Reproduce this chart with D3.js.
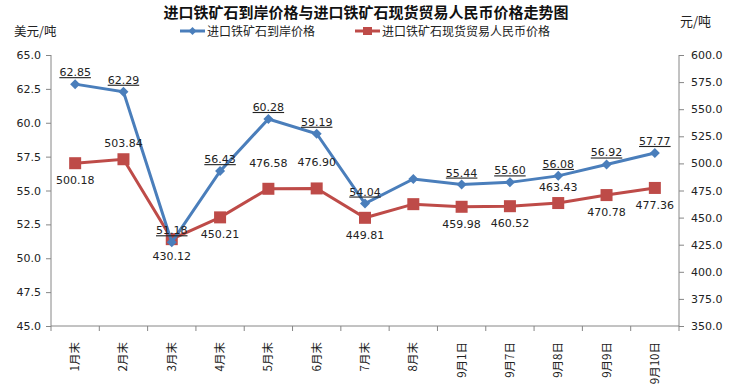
<!DOCTYPE html>
<html>
<head>
<meta charset="utf-8">
<script src="https://cdn.jsdelivr.net/npm/d3@7"></script>
<style>
  body { margin: 0; background: #fff; }
  text { font-family: "DejaVu Sans", Verdana, sans-serif; }
  .cjk { font-family: "Noto Sans CJK SC", sans-serif; }
  .axis path, .axis line { stroke: #868686; }
</style>
</head>
<body>
<div class="chart"></div>
<script>
// Chart data
var categories = ["1月末", "2月末", "3月末", "4月末", "5月末", "6月末", "7月末", "8月末",
  "9月1日", "9月7日", "9月8日", "9月9日", "9月10日"];
var usdPrice = [62.85, 62.29, 51.18, 56.43, 60.28, 59.19, 54.04, 55.85, 55.44, 55.60, 56.08, 56.92, 57.77];
var rmbPrice = [500.18, 503.84, 430.12, 450.21, 476.58, 476.90, 449.81, 462.4, 459.98, 460.52, 463.43, 470.78, 477.36];
// which points carry a label (8月末 has none in the original)
var usdLabeled = [1, 1, 1, 1, 1, 1, 1, 0, 1, 1, 1, 1, 1];
var rmbLabelPos = ["below", "above", "below", "below", "high", "high", "below", "", "below", "below", "above", "below", "below"];
var leftTicks = [45, 47.5, 50, 52.5, 55, 57.5, 60, 62.5, 65];
var rightTicks = [350, 375, 400, 425, 450, 475, 500, 525, 550, 575, 600];

var svgWidth = 729;
var svgHeight = 388;
var margin = { top: 55, right: 50, bottom: 62, left: 51 };
var width = 679 - margin.left;
var height = 326 - margin.top;

var blue = "#4a7ebb";
var red = "#be4b48";

var svg = d3.select(".chart")
  .append("svg")
  .attr("width", svgWidth)
  .attr("height", svgHeight);

var chartGroup = svg.append("g")
  .attr("transform", `translate(${margin.left}, ${margin.top})`);

// Scales
var xBand = d3.scaleBand().domain(categories).range([0, width]);
var xPoint = d => xBand(d) + xBand.bandwidth() / 2;
var yLeft = d3.scaleLinear().domain([45, 65]).range([height, 0]);
var yRight = d3.scaleLinear().domain([350, 600]).range([height, 0]);

// Axes
chartGroup.append("g")
  .attr("class", "axis")
  .call(d3.axisLeft(yLeft).tickValues(leftTicks).tickFormat(d3.format(".1f")).tickSize(5).tickPadding(5))
  .call(g => g.selectAll("text").attr("font-size", 11).attr("fill", "#222"))
  .call(g => g.select(".domain").attr("d", `M0,0V${height}`));

chartGroup.append("g")
  .attr("class", "axis")
  .attr("transform", `translate(${width}, 0)`)
  .call(d3.axisRight(yRight).tickValues(rightTicks).tickFormat(d3.format(".1f")).tickSize(5).tickPadding(7))
  .call(g => g.selectAll("text").attr("font-size", 11).attr("fill", "#222"))
  .call(g => g.select(".domain").attr("d", `M0,0V${height}`));

// x axis: ticks at category boundaries
var xAxisG = chartGroup.append("g")
  .attr("class", "axis")
  .attr("transform", `translate(0, ${height})`);
xAxisG.append("line")
  .attr("x1", 0).attr("x2", width)
  .attr("stroke", "#868686");
xAxisG.selectAll(".xtick")
  .data(d3.range(categories.length + 1))
  .enter()
  .append("line")
  .attr("x1", i => i * xBand.step())
  .attr("x2", i => i * xBand.step())
  .attr("y1", 0).attr("y2", 5)
  .attr("stroke", "#868686");
xAxisG.selectAll(".xlabel")
  .data(categories)
  .enter()
  .append("text")
  .attr("class", "cjk")
  .attr("transform", d => `translate(${xPoint(d) + 4}, 16) rotate(-90)`)
  .attr("text-anchor", "end")
  .attr("font-size", 11.5)
  .attr("fill", "#222")
  .text(d => d);

// Lines
var rows = categories.map((c, i) => ({ cat: c, usd: usdPrice[i], rmb: rmbPrice[i], i: i }));

var usdLine = d3.line().x(d => xPoint(d.cat)).y(d => yLeft(d.usd));
var rmbLine = d3.line().x(d => xPoint(d.cat)).y(d => yRight(d.rmb));

chartGroup.append("path")
  .datum(rows)
  .attr("d", rmbLine)
  .attr("fill", "none")
  .attr("stroke", red)
  .attr("stroke-width", 3);

chartGroup.selectAll(".sq")
  .data(rows)
  .enter()
  .append("rect")
  .attr("x", d => xPoint(d.cat) - 6)
  .attr("y", d => yRight(d.rmb) - 6)
  .attr("width", 12)
  .attr("height", 12)
  .attr("fill", red);

chartGroup.append("path")
  .datum(rows)
  .attr("d", usdLine)
  .attr("fill", "none")
  .attr("stroke", blue)
  .attr("stroke-width", 3);

chartGroup.selectAll(".dm")
  .data(rows)
  .enter()
  .append("path")
  .attr("transform", d => `translate(${xPoint(d.cat)}, ${yLeft(d.usd)})`)
  .attr("d", "M0,-5L5,0L0,5L-5,0Z")
  .attr("fill", blue);

// Data labels
var labelShift = { above: -12, high: -22, below: 21 };
chartGroup.selectAll(".rlab")
  .data(rows.filter(d => rmbLabelPos[d.i] !== ""))
  .enter()
  .append("text")
  .attr("x", d => xPoint(d.cat))
  .attr("y", d => yRight(d.rmb) + labelShift[rmbLabelPos[d.i]])
  .attr("text-anchor", "middle")
  .attr("font-size", 11)
  .attr("fill", "#222")
  .text(d => d3.format(".2f")(d.rmb));

chartGroup.selectAll(".ulab")
  .data(rows.filter(d => usdLabeled[d.i]))
  .enter()
  .append("text")
  .attr("x", d => xPoint(d.cat))
  .attr("y", d => yLeft(d.usd) - 8)
  .attr("text-anchor", "middle")
  .attr("font-size", 11)
  .attr("fill", "#222")
  .attr("text-decoration", "underline")
  .text(d => d3.format(".2f")(d.usd));

// Title and unit labels
svg.append("text")
  .attr("class", "cjk")
  .attr("x", 366).attr("y", 17.5)
  .attr("text-anchor", "middle")
  .attr("font-size", 15)
  .attr("font-weight", "bold")
  .attr("fill", "#111")
  .text("进口铁矿石到岸价格与进口铁矿石现货贸易人民币价格走势图");

svg.append("text")
  .attr("class", "cjk")
  .attr("x", 14).attr("y", 36)
  .attr("font-size", 12.5)
  .attr("fill", "#222")
  .text("美元/吨");

svg.append("text")
  .attr("class", "cjk")
  .attr("x", 680).attr("y", 26)
  .attr("font-size", 13)
  .attr("fill", "#222")
  .text("元/吨");

// Legend
var legend = [
  { name: "进口铁矿石到岸价格", color: blue, x: 180, shape: "diamond" },
  { name: "进口铁矿石现货贸易人民币价格", color: red, x: 355, shape: "square" }
];
var lg = svg.selectAll(".lg")
  .data(legend)
  .enter()
  .append("g")
  .attr("transform", d => `translate(${d.x}, 31)`);
lg.append("line")
  .attr("x1", 0).attr("x2", 25)
  .attr("stroke", d => d.color)
  .attr("stroke-width", 3);
lg.append("path")
  .attr("d", d => d.shape === "diamond" ? "M12.5,-4L16.5,0L12.5,4L8.5,0Z" : "M8,-4H17V4H8Z")
  .attr("fill", d => d.color);
lg.append("text")
  .attr("class", "cjk")
  .attr("x", 27).attr("y", 4.8)
  .attr("font-size", 12)
  .attr("fill", "#222")
  .text(d => d.name);
</script>
</body>
</html>
